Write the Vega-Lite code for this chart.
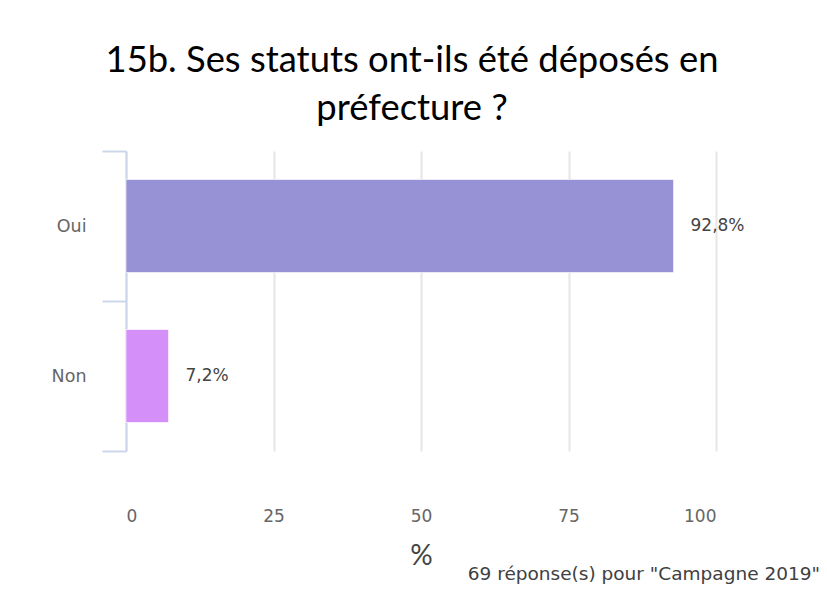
{
  "$schema": "https://vega.github.io/schema/vega-lite/v6.json",
  "padding": {"left": 45, "top": 42, "right": 6, "bottom": 2},
  "autosize": {"type": "pad"},
  "background": "white",
  "config": {"view": {"stroke": null}, "font": "DejaVu Sans", "concat": {"spacing": 0}},
  "title": {
    "text": ["15b. Ses statuts ont-ils été déposés en", "préfecture ?"],
    "font": "Lato",
    "fontSize": 36.4,
    "fontWeight": "normal",
    "color": "#000000",
    "anchor": "middle",
    "frame": "group",
    "dx": -9,
    "lineHeight": 48,
    "offset": 15
  },
  "vconcat": [
    {
      "width": 590,
      "height": 300,
      "data": {
        "values": [
          {"reponse": "Oui", "pct": 92.8, "label": "92,8%"},
          {"reponse": "Non", "pct": 7.2, "label": "7,2%"}
        ]
      },
      "title": {
        "text": "69 réponse(s) pour \"Campagne 2019\"",
        "orient": "bottom",
        "anchor": "end",
        "frame": "group",
        "font": "DejaVu Sans",
        "fontSize": 18.5,
        "fontWeight": "normal",
        "color": "#404040",
        "dx": 104,
        "offset": -5
      },
      "encoding": {
        "y": {
          "field": "reponse",
          "type": "nominal",
          "sort": ["Oui", "Non"],
          "scale": {"paddingInner": 0, "paddingOuter": 0},
          "axis": {
            "title": null,
            "domainColor": "#ccd6eb",
            "domainWidth": 2,
            "tickColor": "#ccd6eb",
            "tickWidth": 2,
            "tickSize": 24,
            "tickBand": "extent",
            "labelPadding": 16,
            "labelFontSize": 17.5,
            "labelColor": "#666666",
            "labelFont": "DejaVu Sans",
            "minExtent": 81,
            "maxExtent": 81,
            "grid": false
          }
        },
        "x": {
          "field": "pct",
          "type": "quantitative",
          "scale": {"domain": [0, 100], "nice": false},
          "axis": {
            "values": [0, 25, 50, 75, 100],
            "title": "%",
            "titleFont": "Lato",
            "titleFontSize": 28,
            "titleFontWeight": "normal",
            "titleColor": "#444444",
            "titlePadding": 18,
            "domain": false,
            "ticks": false,
            "grid": true,
            "gridColor": "#e6e6e6",
            "gridWidth": 2,
            "labelFontSize": 17,
            "labelColor": "#666666",
            "labelFont": "DejaVu Sans",
            "labelPadding": 57
          }
        }
      },
      "layer": [
        {
          "mark": {"type": "bar", "height": {"band": 0.62}, "stroke": "#ffffff", "strokeWidth": 1, "strokeOpacity": 0.6},
          "encoding": {
            "color": {
              "field": "reponse",
              "type": "nominal",
              "scale": {"domain": ["Oui", "Non"], "range": ["#9791d5", "#d58ff9"]},
              "legend": null
            }
          }
        },
        {
          "mark": {"type": "text", "align": "left", "baseline": "middle", "dx": 17, "fontSize": 17, "color": "#444444", "font": "DejaVu Sans"},
          "encoding": {"text": {"field": "label"}}
        }
      ]
    }
  ]
}
